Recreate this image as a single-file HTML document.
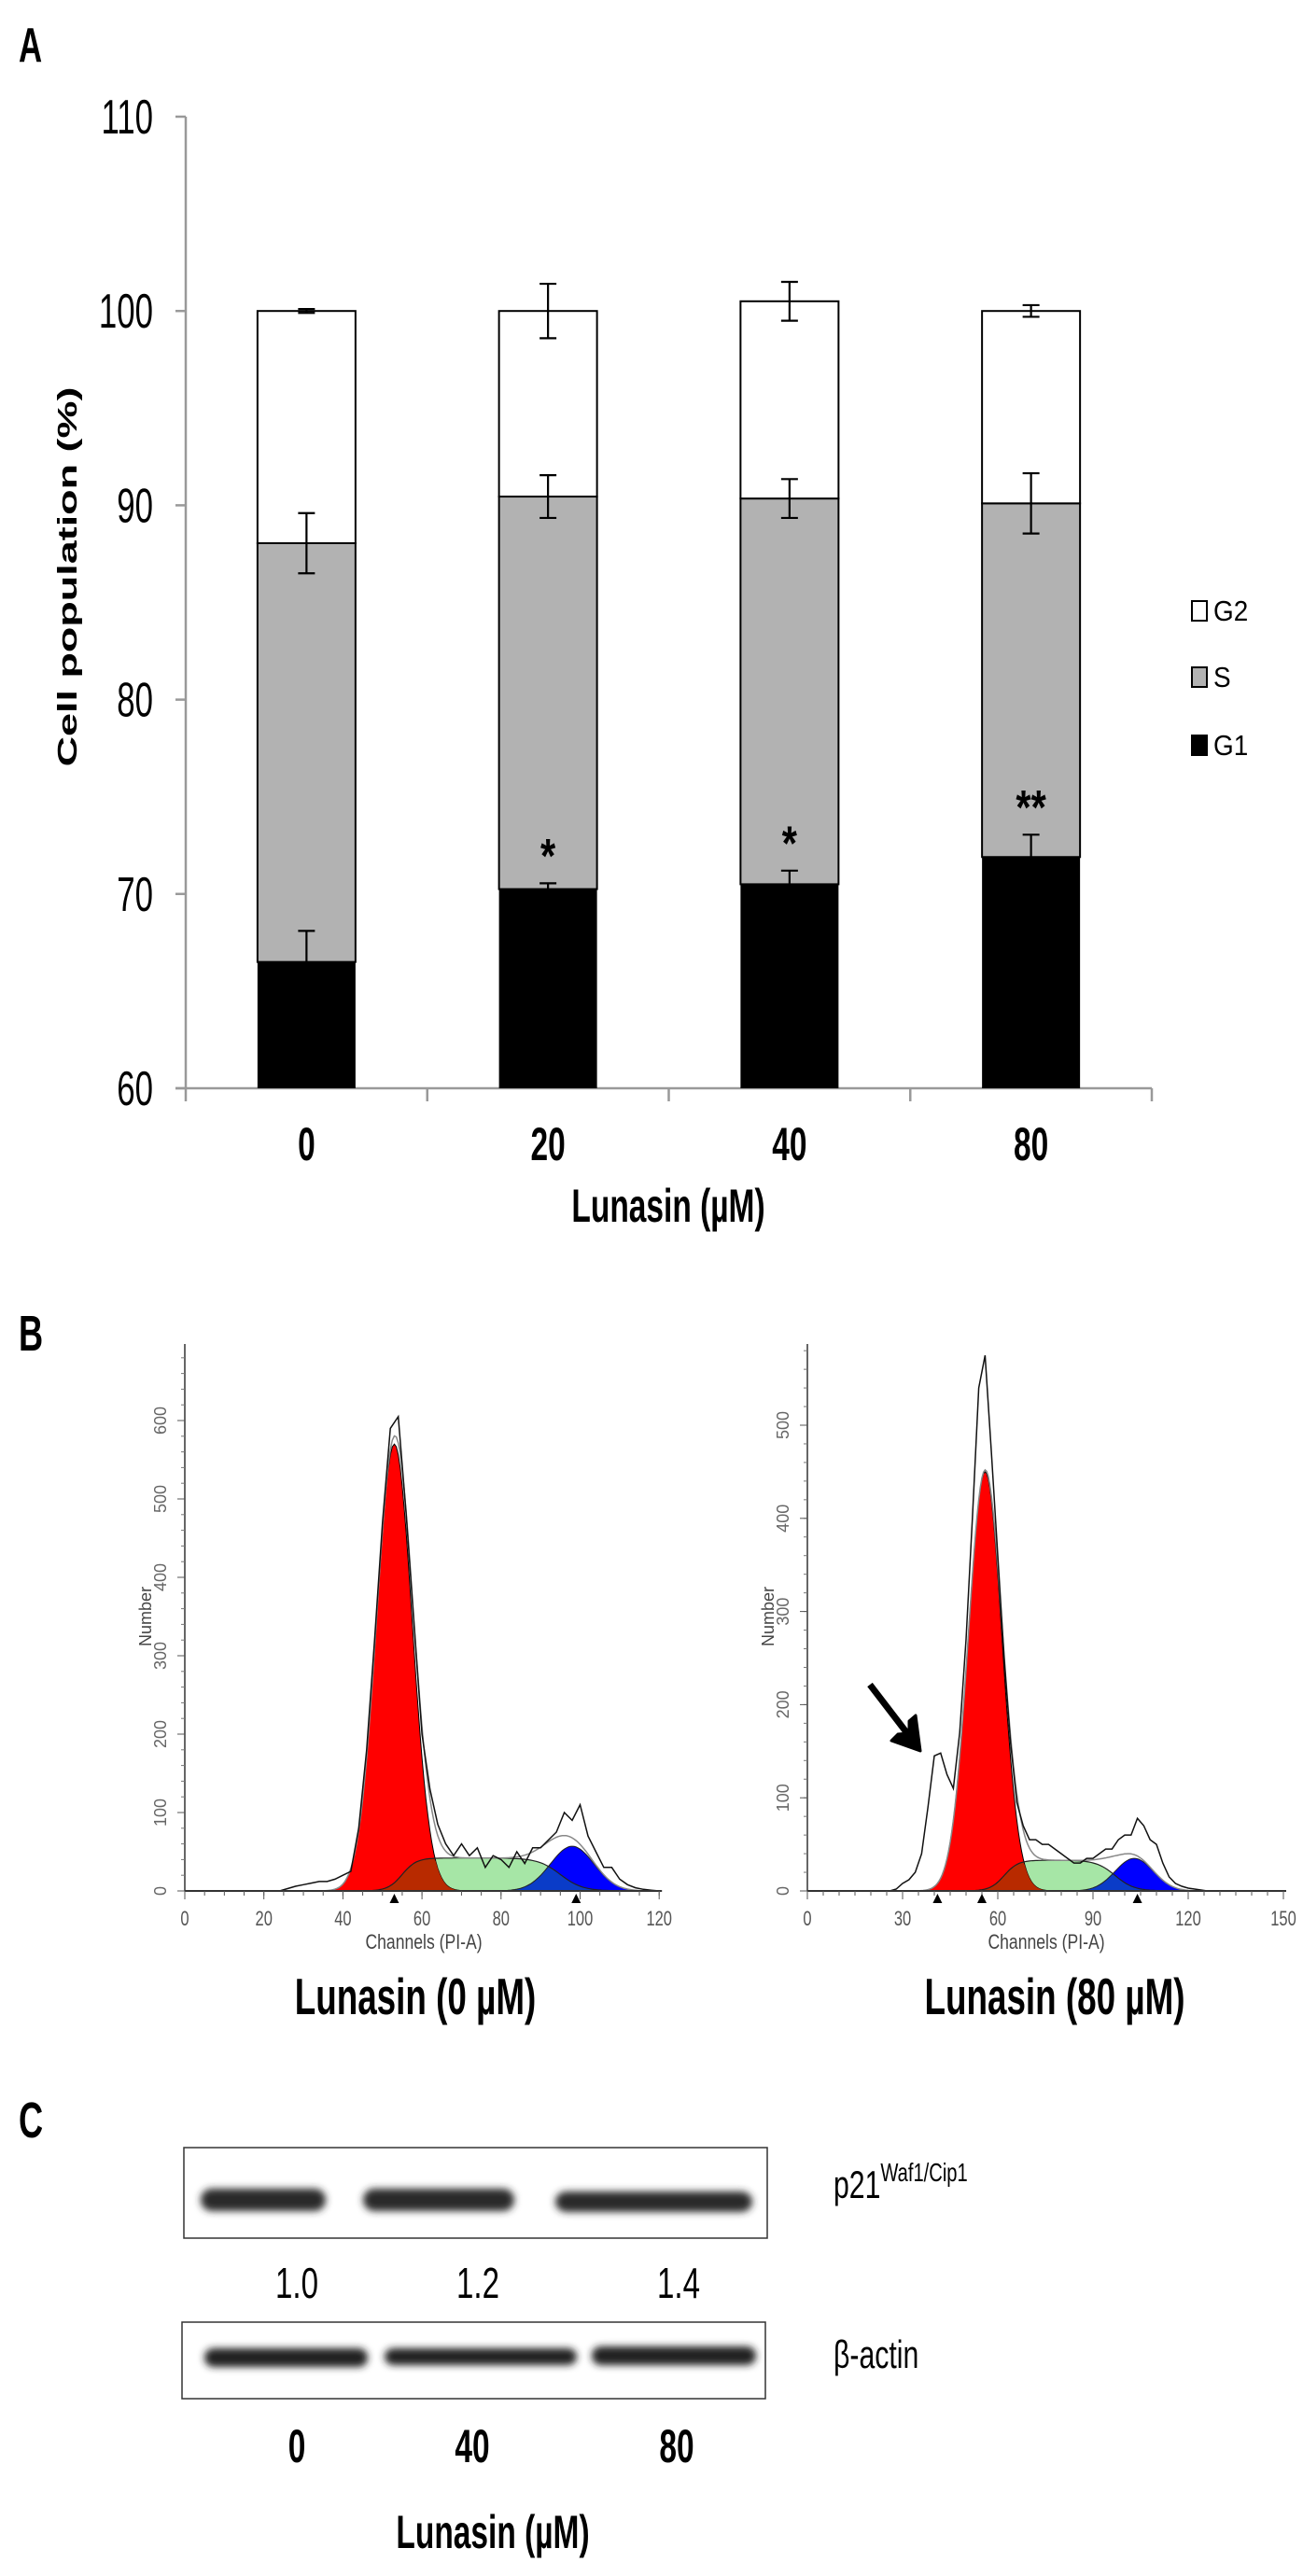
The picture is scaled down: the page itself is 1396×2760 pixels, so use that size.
<!DOCTYPE html>
<html><head><meta charset="utf-8"><style>
html,body{margin:0;padding:0;background:#fff}
svg{display:block}
text{font-family:"Liberation Sans",sans-serif}
</style></head><body>
<svg id="fig" width="1396" height="2760" viewBox="0 0 1396 2760" xmlns="http://www.w3.org/2000/svg"></svg>
<script>
// ---------- Panel A data ----------
const categories = ['0','20','40','80'];
const g1Values = [66.5, 70.25, 70.5, 71.9];
const sValues = [21.55, 20.2, 19.85, 18.2];
const g2Values = [11.95, 9.55, 10.15, 9.9];
const g1Err = [1.6, 0.3, 0.7, 1.15];
const sErr = [1.55, 1.1, 1.0, 1.55];
const g2Err = [0.1, 1.4, 1.0, 0.3];
const starLabels = ['', '*', '*', '**'];
const yTicks = [60, 70, 80, 90, 100, 110];
// ---------- Panel B data ----------
const leftCounts = [0,0,0,0,0,0,0,0,0,0,0,0,0,3,6,8,10,12,12,15,20,25,80,180,320,470,590,605,480,340,200,130,85,60,45,60,45,55,30,45,40,30,50,35,55,55,65,75,100,90,110,70,50,30,30,15,8,4,2,1,0];
const rightCounts = [0,0,0,0,0,0,0,0,0,0,0,0,0,0,2,8,12,20,40,90,145,148,125,110,170,270,400,540,575,470,360,250,160,95,70,55,55,50,50,45,40,35,30,30,35,35,40,45,45,55,60,60,78,70,55,50,30,15,8,5,3,2,1,0,0,0,0,0,0,0,0,0,0,0,0,0];
const leftG1 = [53, 4.5, 570];
const leftS = [42, 55, 1.8, 95, 2.8];
const leftG2 = [98, 5.5, 57];
const rightG1 = [56, 5.3, 450];
const rightS = [33, 62, 2.2, 97, 3];
const rightG2 = [103, 6, 35];
const leftXTicks = [0,20,40,60,80,100,120];
const leftYTicks = [0,100,200,300,400,500,600];
const rightXTicks = [0,30,60,90,120,150];
const rightYTicks = [0,100,200,300,400,500];
const leftMarkers = [53, 99];
const rightMarkers = [41, 55, 104];
// ---------- Panel C data ----------
const laneLabels = ['0','40','80'];
const p21Ratios = ['1.0','1.2','1.4'];

const NS = 'http://www.w3.org/2000/svg';
const svg = document.getElementById('fig');
function el(tag, attrs, parent) {
  const e = document.createElementNS(NS, tag);
  for (const k in attrs) e.setAttribute(k, attrs[k]);
  (parent || svg).appendChild(e);
  return e;
}
function txt(x, y, s, F, anchor, weight, sx, fill, parent) {
  const t = el('text', {transform: 'translate(' + x + ',' + y + ') scale(' + sx + ',1)', 'font-size': F, 'text-anchor': anchor, 'font-weight': weight, fill: fill || '#000'}, parent);
  t.textContent = s;
  return t;
}

// ===== Panel A =====
const gA = el('g', {});


let t = txt(20, 66, 'A', 52, 'start', 'bold', 0.67);


const yA = v => 1166 - (v - 60) * 20.82;
const axL = 199, axR = 1234;
const band = (axR - axL) / categories.length;
const xA = i => axL + band * (i + 0.5);
let ln = el('line', {x1: axL, y1: 125, x2: axL, y2: 1166, stroke: '#999', 'stroke-width': 2.5}, gA);


ln = el('line', {x1: axL - 11, y1: 1166, x2: axR, y2: 1166, stroke: '#999', 'stroke-width': 2.5}, gA);


yTicks.forEach(v => {
  const tk = el('line', {x1: axL - 11, y1: yA(v), x2: axL, y2: yA(v), stroke: '#999', 'stroke-width': 2.5}, gA);
  
  
  const lb = txt(164, yA(v) + 18, String(v), 52, 'end', 'normal', 0.67, '#000', gA);
  
  
});
for (let i = 0; i <= categories.length; i++) {
  const tk = el('line', {x1: axL + band * i, y1: 1166, x2: axL + band * i, y2: 1180, stroke: '#999', 'stroke-width': 2.5}, gA);
  
  
}
const bw = 105;
function errBar(x, v, e, up, down, nm) {
  const y0 = yA(v + e), y1 = down ? yA(v - e) : yA(v);
  const g = el('g', {stroke: '#000', 'stroke-width': 2.2}, gA);
  
  
  el('line', {x1: x, y1: y0, x2: x, y2: y1}, g);
  el('line', {x1: x - 9, y1: y0, x2: x + 9, y2: y0}, g);
  if (down) el('line', {x1: x - 9, y1: y1, x2: x + 9, y2: y1}, g);
}
categories.forEach((c, i) => {
  const x = xA(i);
  const b1 = g1Values[i], b2 = b1 + sValues[i], b3 = b2 + g2Values[i];
  let r = el('rect', {x: x - bw / 2, y: yA(b1), width: bw, height: yA(60) - yA(b1), fill: '#000'}, gA);
  
  
  r = el('rect', {x: x - bw / 2, y: yA(b2), width: bw, height: yA(b1) - yA(b2), fill: '#b2b2b2', stroke: '#000', 'stroke-width': 2}, gA);
  
  
  r = el('rect', {x: x - bw / 2, y: yA(b3), width: bw, height: yA(b2) - yA(b3), fill: '#fff', stroke: '#000', 'stroke-width': 2}, gA);
  
  
  errBar(x, b1, g1Err[i], true, false, 'error-bar-g1');
  errBar(x, b2, sErr[i], true, true, 'error-bar-s');
  errBar(x, b3, g2Err[i], true, true, 'error-bar-g2');
  if (starLabels[i]) {
    const st = txt(x, yA(b1 + g1Err[i] + 1.6) + 22, starLabels[i], 52, 'middle', 'bold', 0.8, '#000', gA);
    
    
  }
  const lb = txt(x, 1243, c, 50, 'middle', 'bold', 0.67, '#000', gA);
  
  
});
t = txt(716, 1309, 'Lunasin (\u00b5M)', 50, 'middle', 'bold', 0.67, '#000', gA);


t = el('text', {transform: 'translate(82,618) rotate(-90) scale(1.55,1)', 'font-size': 29, 'font-weight': 'bold', 'text-anchor': 'middle'}, gA);
t.textContent = 'Cell population (%)';


const legendItems = [['G2', '#fff', 654], ['S', '#b2b2b2', 725], ['G1', '#000', 798]];
legendItems.forEach(li => {
  const g = el('g', {}, gA);
  
  
  el('rect', {x: 1277, y: li[2] - 10, width: 16, height: 21, fill: li[1], stroke: '#000', 'stroke-width': 2}, g);
  txt(1300, li[2] + 11, li[0], 31, 'start', 'normal', 0.9, '#000', g);
});

// ===== Panel B =====
t = txt(20, 1447, 'B', 54, 'start', 'bold', 0.67);


function gauss(p, c) { return p[2] * Math.exp(-0.5 * Math.pow((c - p[0]) / p[1], 2)); }
function sphase(p, c) { return p[0] / (1 + Math.exp(-(c - p[1]) / p[2])) / (1 + Math.exp((c - p[3]) / p[4])); }
function histogram(cfg) {
  const g = el('g', {});
  
  
  const X = c => cfg.x0 + c * cfg.kx, Y = n => cfg.y0 - n * cfg.ky;
  const maxC = cfg.xTicks[cfg.xTicks.length - 1];
  const cs = [];
  for (let c = 0; c <= maxC; c += 0.5) cs.push(c);
  function area(fn) {
    let d = 'M' + X(0) + ',' + Y(0);
    cs.forEach(c => { d += 'L' + X(c).toFixed(1) + ',' + Y(fn(c)).toFixed(1); });
    return d + 'L' + X(maxC) + ',' + Y(0) + 'Z';
  }
  function line(fn) {
    let d = '';
    cs.forEach((c, i) => { d += (i ? 'L' : 'M') + X(c).toFixed(1) + ',' + Y(fn(c)).toFixed(1); });
    return d;
  }
  const S = c => sphase(cfg.s, c), G1 = c => gauss(cfg.g1, c), G2 = c => gauss(cfg.g2, c);
  let p = el('path', {d: area(S), fill: '#a6e6a6'}, g);
  
  
  p = el('path', {d: area(G2), fill: '#0000ff'}, g);
  
  
  p = el('path', {d: area(c => Math.min(S(c), G2(c))), fill: '#0a3cc8'}, g);
  
  
  p = el('path', {d: area(G1), fill: '#ff0000', stroke: '#000', 'stroke-width': 1}, g);
  
  
  p = el('path', {d: area(c => Math.min(S(c), G1(c))), fill: '#b82a00'}, g);
  
  
  p = el('path', {d: line(S), fill: 'none', stroke: '#222', 'stroke-width': 1.2}, g);
  
  
  p = el('path', {d: line(G2), fill: 'none', stroke: '#222', 'stroke-width': 1}, g);
  
  
  p = el('path', {d: line(c => G1(c) + S(c) + G2(c)), fill: 'none', stroke: '#888', 'stroke-width': 1.5}, g);
  
  
  let d = '';
  cfg.counts.forEach((n, i) => { d += (i ? 'L' : 'M') + X(i * 2).toFixed(1) + ',' + Y(n).toFixed(1); });
  p = el('path', {d: d, fill: 'none', stroke: '#111', 'stroke-width': 1.5}, g);
  
  
  let a = el('line', {x1: cfg.x0, y1: 1440, x2: cfg.x0, y2: cfg.y0, stroke: '#333', 'stroke-width': 1.5}, g);
  
  
  a = el('line', {x1: cfg.x0, y1: cfg.y0, x2: X(maxC) + 3, y2: cfg.y0, stroke: '#333', 'stroke-width': 2}, g);
  
  
  for (let c = 0; c <= maxC; c += cfg.minor) {
    el('line', {x1: X(c), y1: cfg.y0, x2: X(c), y2: cfg.y0 + 5, stroke: '#555', 'stroke-width': 1}, g);
  }
  cfg.xTicks.forEach(c => {
    el('line', {x1: X(c), y1: cfg.y0, x2: X(c), y2: cfg.y0 + 9, stroke: '#555', 'stroke-width': 1}, g);
    const l = txt(X(c), 2063, String(c), 22, 'middle', 'normal', 0.75, '#555', g);
    
    
  });
  for (let n = 0; n <= cfg.yTicks[cfg.yTicks.length - 1] + 80; n += 20) {
    el('line', {x1: cfg.x0 - 4, y1: Y(n), x2: cfg.x0, y2: Y(n), stroke: '#777', 'stroke-width': 1}, g);
  }
  cfg.yTicks.forEach(n => {
    el('line', {x1: cfg.x0 - 8, y1: Y(n), x2: cfg.x0, y2: Y(n), stroke: '#555', 'stroke-width': 1}, g);
    const l = el('text', {transform: 'translate(' + (cfg.x0 - 20) + ',' + Y(n) + ') rotate(-90)', 'font-size': 18, 'text-anchor': 'middle', fill: '#666'}, g);
    l.textContent = String(n);
    
    
  });
  cfg.markers.forEach(c => {
    const m = el('path', {d: 'M' + (X(c) - 5) + ',' + (cfg.y0 + 13) + 'L' + (X(c) + 5) + ',' + (cfg.y0 + 13) + 'L' + X(c) + ',' + (cfg.y0 + 3) + 'Z', fill: '#000'}, g);
    
    
  });
  let l = txt(cfg.x0 + 256, 2088, 'Channels (PI-A)', 22, 'middle', 'normal', 0.8, '#444', g);
  
  
  l = el('text', {transform: 'translate(' + (cfg.x0 - 36) + ',1732) rotate(-90)', 'font-size': 18, 'text-anchor': 'middle', fill: '#444'}, g);
  l.textContent = 'Number';
  
  
  l = txt(cfg.x0 + cfg.captionDx, 2158, cfg.caption, 55, 'middle', 'bold', 0.67, '#000', g);
  
  
  return g;
}
histogram({name: 'histogram-control', x0: 198, y0: 2026, kx: 4.235, ky: 0.84, counts: leftCounts, g1: leftG1, s: leftS, g2: leftG2, xTicks: leftXTicks, yTicks: leftYTicks, minor: 5, markers: leftMarkers, caption: 'Lunasin (0 \u00b5M)', captionDx: 247});
histogram({name: 'histogram-lunasin-80', x0: 865, y0: 2026, kx: 3.4, ky: 0.998, counts: rightCounts, g1: rightG1, s: rightS, g2: rightG2, xTicks: rightXTicks, yTicks: rightYTicks, minor: 5, markers: rightMarkers, caption: 'Lunasin (80 \u00b5M)', captionDx: 265});
const arrow = el('g', {});


el('line', {x1: 932, y1: 1805, x2: 978, y2: 1865, stroke: '#000', 'stroke-width': 7}, arrow);
el('path', {d: 'M986,1876 L955,1865 L962,1858 L974,1857 L974,1844 L981,1838 Z', fill: '#000', stroke: '#000', 'stroke-width': 3, 'stroke-linejoin': 'round'}, arrow);

// ===== Panel C =====
t = txt(20, 2290, 'C', 54, 'start', 'bold', 0.67);


const defs = el('defs', {});
const flt = el('filter', {id: 'blur', x: '-20%', y: '-50%', width: '140%', height: '200%'}, defs);
el('feGaussianBlur', {stdDeviation: '4'}, flt);
const blot1 = el('g', {});


el('rect', {x: 197, y: 2301, width: 625, height: 97, fill: '#fff', stroke: '#333', 'stroke-width': 1.5}, blot1);
[[215, 349, 2357, 24], [389, 551, 2357, 24], [595, 806, 2359, 22]].forEach(b => {
  const r = el('rect', {x: b[0], y: b[2] - b[3] / 2, width: b[1] - b[0], height: b[3], rx: 12, fill: '#2a2a2a', filter: 'url(#blur)'}, blot1);
  
  
});
const blot2 = el('g', {});


el('rect', {x: 195, y: 2488, width: 625, height: 82, fill: '#fff', stroke: '#333', 'stroke-width': 1.5}, blot2);
[[219, 394, 2526, 20], [412, 618, 2525, 18], [634, 810, 2524, 20]].forEach(b => {
  const r = el('rect', {x: b[0], y: b[2] - b[3] / 2, width: b[1] - b[0], height: b[3], rx: 10, fill: '#222', filter: 'url(#blur)'}, blot2);
  
  
});
const p21 = el('text', {x: 893, y: 2355, 'font-size': 42, transform: 'translate(893,0) scale(0.72,1) translate(-893,0)'});


p21.textContent = 'p21';
const sup = el('tspan', {dy: -18, 'font-size': 28}, p21);
sup.textContent = 'Waf1/Cip1';
t = txt(893, 2537, '\u03b2-actin', 42, 'start', 'normal', 0.72);


const ratioX = [318, 512, 727], laneX = [318, 506, 725];
p21Ratios.forEach((r, i) => {
  const l = txt(ratioX[i], 2462, r, 46, 'middle', 'normal', 0.72);
  
  
});
laneLabels.forEach((r, i) => {
  const l = txt(laneX[i], 2638, r, 50, 'middle', 'bold', 0.67);
  
  
});
t = txt(528, 2730, 'Lunasin (\u00b5M)', 50, 'middle', 'bold', 0.67);


</script>
</body></html>
